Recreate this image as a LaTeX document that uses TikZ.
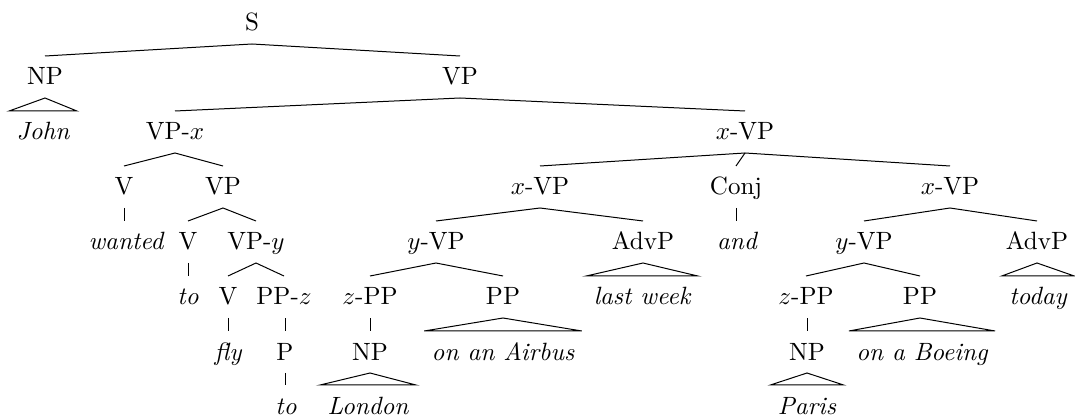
\documentclass[tikz,border=0pt]{standalone}
\usetikzlibrary{positioning}
\begin{document}
\begin{tikzpicture}[x=0.4pt,y=-0.4pt,
	every node/.style={text height=7.8pt,text depth=1.4pt,inner xsep=2.8pt,inner ysep=3.6pt},
	lex/.style={font=\itshape}]
	\useasboundingbox (0,0) rectangle (1075,419);
	
	\node (s) at (252,23) {S};
	\node (np) at (45,77) {NP};
	\node (vp) at (460,77) {VP};
	\node[lex] (john) at (43,132) {John};
	\node (vpx) at (175,132) {VP-$x$};
	\node (xvp) at (745,132) {$x$-VP};
	
	\node (v1) at (124,187) {V};
	\node (vp1) at (223,187) {VP};
	\node (xvpa) at (540,187) {$x$-VP};
	\node (conj) at (736,187) {Conj};
	\node (xvpb) at (950,187) {$x$-VP};
	
	\node[lex] (wanted) at (126,242) {wanted};
	\node (v2) at (188,242) {V};
	\node (vpy) at (256,242) {VP-$y$};
	\node (yvpa) at (436,242) {$y$-VP};
	\node (advpa) at (643,242) {AdvP};
	\node[lex] (and) at (737,242) {and};
	\node (yvpb) at (864,242) {$y$-VP};
	\node (advpb) at (1037,242) {AdvP};
	
	\node[lex] (to1) at (188,297) {to};
	\node (v3) at (228,297) {V};
	\node (ppz) at (284,297) {PP-$z$};
	\node (zppa) at (370,297) {$z$-PP};
	\node (ppa) at (503,297) {PP};
	\node[lex] (lastweek) at (642,297) {last week};
	\node (zppb) at (806,297) {$z$-PP};
	\node (ppb) at (920,297) {PP};
	\node[lex] (today) at (1038,297) {today};
	
	\node[lex] (fly) at (228,352) {fly};
	\node (p) at (285,352) {P};
	\node (npa) at (370,352) {NP};
	\node[lex] (airbus) at (503,352) {on an Airbus};
	\node (npb) at (807,352) {NP};
	\node[lex] (boeing) at (922,352) {on a Boeing};
	
	\node[lex] (to2) at (286,406) {to};
	\node[lex] (london) at (368,406) {London};
	\node[lex] (paris) at (807,406) {Paris};
	
	\draw (np.north) -- (s.south) -- (vp.north);
	\draw (vpx.north) -- (vp.south) -- (xvp.north);
	\draw (np.south) -- (john.north west) -- (john.north east) -- cycle;
	\draw (v1.north) -- (vpx.south) -- (vp1.north);
	\draw (xvpa.north) -- (xvp.south) -- (xvpb.north);
	\draw (xvp.south) -- (conj.north);
	\draw (v1.south) -- (v1.south |- wanted.north);
	\draw (v2.north) -- (vp1.south) -- (vpy.north);
	\draw (v2.south) -- (v2.south |- to1.north);
	\draw (v3.north) -- (vpy.south) -- (ppz.north);
	\draw (v3.south) -- (v3.south |- fly.north);
	\draw (p.north) -- (p.north |- ppz.south);
	\draw (p.south) -- (p.south |- to2.north);
	\draw (yvpa.north) -- (xvpa.south) -- (advpa.north);
	\draw (conj.south) -- (conj.south |- and.north);
	\draw (yvpb.north) -- (xvpb.south) -- (advpb.north);
	\draw (zppa.north) -- (yvpa.south) -- (ppa.north);
	\draw (advpa.south) -- (lastweek.north west) -- (lastweek.north east) -- cycle;
	\draw (zppb.north) -- (yvpb.south) -- (ppb.north);
	\draw (advpb.south) -- (today.north west) -- (today.north east) -- cycle;
	\draw (npa.north) -- (npa.north |- zppa.south);
	\draw (ppa.south) -- (airbus.north west) -- (airbus.north east) -- cycle;
	\draw (npb.north) -- (npb.north |- zppb.south);
	\draw (ppb.south) -- (boeing.north west) -- (boeing.north east) -- cycle;
	\draw (npa.south) -- (london.north west) -- (london.north east) -- cycle;
	\draw (npb.south) -- (paris.north west) -- (paris.north east) -- cycle;
\end{tikzpicture}
\end{document}
